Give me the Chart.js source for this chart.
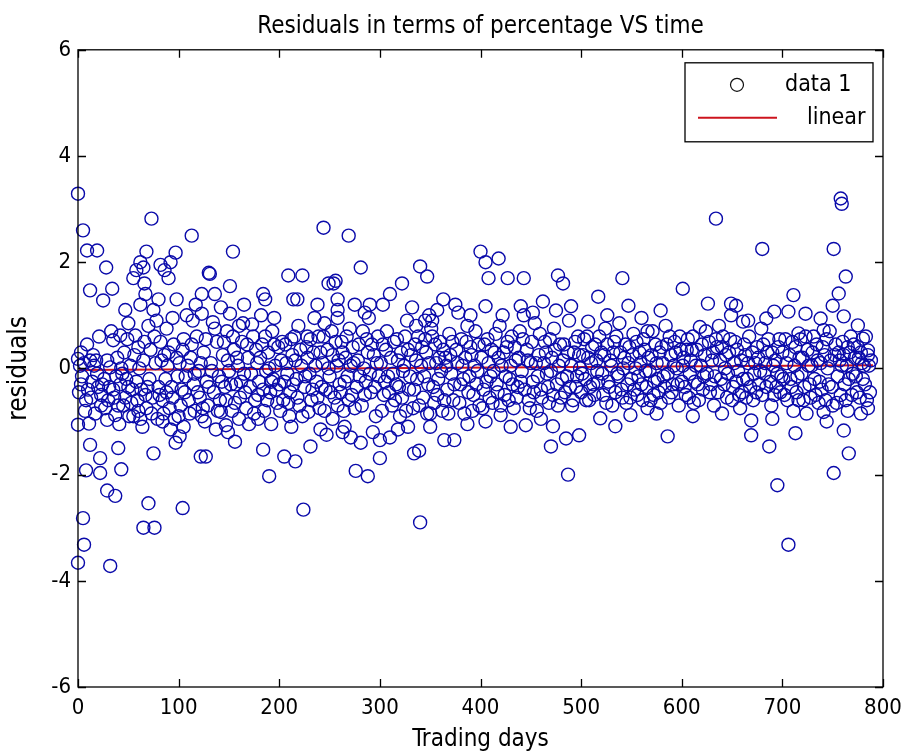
<!DOCTYPE html>
<html>
<head>
<meta charset="utf-8">
<script src="https://cdn.jsdelivr.net/npm/chart.js@4.4.1/dist/chart.umd.min.js"></script>
<style>
  html, body { margin: 0; padding: 0; background: #fff; }
  #wrap { width: 910px; height: 756px; }
</style>
</head>
<body>
<div id="wrap"><canvas id="residualChart" width="910" height="756"></canvas></div>
<script>
// [trading day, residual %], one list per 100 days
const span0 = [[0,3.29],[5,2.6],[9,2.22],[19,2.22],[28,1.9],[12,1.47],[25,1.28],[34,1.5],[47,1.1],[55,1.7],[58,1.85],[62,2.0],[65,1.9],[68,2.2],[66,1.6],[73,2.82],[82,1.95],[86,1.85],[90,1.7],[92,2.0],[97,2.18],[35,0.53],[42,0.62],[57,0.62],[67,1.4],[70,0.8],[75,1.1],[88,0.75],[98,1.3],[0,0.18],[12,0.15],[18,0.15],[86,0.25],[3,-0.3],[10,-0.4],[23,-0.5],[23,-0.7],[35,-0.4],[42,-0.3],[47,-0.55],[53,-0.65],[60,-0.8],[62,-0.95],[67,-0.5],[0,-1.06],[11,-1.04],[29,-0.97],[37,-0.88],[12,-1.44],[22,-1.69],[40,-1.5],[22,-1.97],[8,-1.92],[43,-1.9],[29,-2.3],[37,-2.4],[75,-1.6],[84,-1.0],[92,-1.15],[97,-1.4],[70,-2.54],[5,-2.82],[65,-3.0],[76,-3.0],[6,-3.32],[0,-3.66],[32,-3.72],
  [2,0.05],[4,-0.15],[6,0.1],[8,-0.6],[14,-0.25],[16,0.05],[20,-0.35],[26,-0.2],[30,-0.6],[32,0.02],[38,-0.15],[40,-0.7],[44,-0.1],[46,0.3],[50,-0.35],[52,0.05],[55,-0.9],[58,-0.25],[60,0.4],[63,-0.4],[65,0.15],[68,-0.75],[71,-0.2],[72,0.35],[74,-0.55],[77,0.1],[79,-0.95],[80,-0.35],[82,0.5],[84,-0.6],[87,-0.2],[89,0.05],[91,-0.75],[93,-0.35],[95,0.45],[96,-0.95],[99,-0.15],[78,0.9],[62,1.2],[50,0.85],[80,1.3],[94,0.95],
  [1,-0.45],[3,0.3],[7,-0.8],[9,0.45],[13,-0.55],[15,0.25],[17,-0.85],[19,-0.1],[21,0.6],[24,-0.3],[27,-0.75],[29,0.15],[31,-0.35],[33,0.7],[36,-0.55],[39,0.2],[41,-1.05],[43,0.0],[45,-0.7],[48,-0.2],[49,0.55],[51,-0.9],[54,-0.4],[56,0.25],[59,-0.6],[61,0.0],[64,-1.1],[66,0.5],[69,-0.35],[73,-0.85],[76,0.6],[81,-0.5],[83,0.15],[85,-0.85],[88,-0.45],[90,0.3],[94,-0.55],[98,0.2]];

const span1 = [[101,-1.28],[104,-2.63],[113,2.5],[123,1.4],[130,1.8],[131,1.78],[136,1.4],[151,1.55],[154,2.2],[108,1.0],[114,0.9],[123,1.03],[134,0.87],[151,1.03],[160,0.8],[173,0.83],[182,1.0],[184,1.4],[186,1.3],[195,0.95],[116,-0.8],[123,-0.9],[126,-1.0],[142,-0.82],[147,-1.07],[149,-1.2],[156,-1.38],[179,-0.95],[192,-1.05],[184,-1.53],[190,-2.03],[122,-1.66],[127,-1.66],[100,-0.9],
  [101,0.1],[103,-0.4],[105,0.55],[107,-0.15],[110,-0.6],[112,0.2],[115,-0.3],[118,0.6],[120,-0.05],[121,-0.55],[125,0.3],[128,-0.25],[129,-0.7],[132,0.1],[135,-0.45],[138,0.5],[140,-0.15],[141,-0.6],[144,0.25],[146,-0.35],[148,0.7],[150,-0.05],[153,-0.8],[155,0.35],[157,-0.3],[159,0.05],[161,-0.55],[163,0.5],[165,-0.1],[167,-0.75],[169,0.2],[171,-0.35],[174,0.6],[176,-0.6],[178,0.1],[180,-0.25],[183,0.45],[185,-0.8],[187,-0.05],[189,0.3],[191,-0.45],[193,0.7],[194,-0.2],[196,0.05],[198,-0.65],[199,0.4],[105,-1.1],[137,-1.15],[170,-1.05],[160,-0.95],[117,1.2],[142,1.15],[165,1.2],
  [102,-0.7],[104,0.35],[106,-0.45],[109,0.05],[111,-0.85],[113,0.45],[116,-0.1],[119,-0.45],[122,0.1],[124,-0.75],[127,0.55],[130,-0.35],[133,-0.05],[136,0.75],[139,-0.8],[143,-0.25],[145,0.5],[147,-0.6],[149,0.15],[152,-0.3],[154,0.6],[156,-0.65],[158,0.2],[162,-0.25],[164,0.85],[166,-0.45],[168,0.45],[172,-0.1],[175,-0.85],[177,0.35],[179,-0.5],[181,0.2],[184,-0.4],[186,0.6],[188,-0.6],[190,0.0],[192,-0.25],[195,0.45],[197,-0.4]];

const span2 = [[209,1.75],[223,1.75],[214,1.3],[218,1.3],[249,1.6],[254,1.6],[215,0.6],[228,0.6],[235,0.95],[245,0.85],[244,2.65],[205,-1.66],[216,-1.75],[231,-1.47],[210,-0.9],[229,-0.82],[241,-1.15],[253,-0.95],[224,-2.66],[269,2.5],[281,1.9],[256,1.65],[258,1.3],[258,0.95],[258,1.1],[285,1.05],[290,1.2],[289,0.95],[265,-1.1],[271,-1.3],[281,-1.4],[276,-1.93],[288,-2.03],[293,-1.2],
  [200,-0.3],[202,0.15],[204,-0.6],[206,0.45],[208,-0.1],[211,-0.45],[213,0.25],[217,-0.2],[219,0.8],[220,-0.7],[222,0.05],[225,-0.35],[227,0.4],[230,-0.1],[232,-0.6],[234,0.3],[237,-0.25],[239,0.6],[240,-0.75],[243,0.1],[246,-0.4],[248,0.35],[250,-0.15],[252,0.7],[255,-0.55],[257,0.05],[260,-0.3],[262,0.5],[264,-0.8],[266,0.2],[268,-0.15],[270,0.75],[272,-0.5],[274,0.1],[277,-0.35],[279,0.45],[282,-0.7],[284,0.0],[286,-0.25],[287,0.55],[291,-0.45],[294,0.25],[296,-0.9],[298,0.6],[299,-0.15],[212,-1.1],[247,-1.25],[263,-1.2],[238,1.2],[275,1.2],
  [201,-0.8],[203,0.5],[205,-0.25],[207,0.1],[209,-0.65],[212,0.55],[214,-0.3],[216,0.15],[218,-0.55],[221,0.35],[223,-0.9],[226,-0.15],[228,0.2],[231,0.55],[233,-0.4],[236,0.05],[238,-0.55],[241,0.3],[242,-0.35],[244,0.6],[245,-0.8],[249,0.0],[251,-0.45],[253,0.25],[256,0.5],[258,-0.7],[259,0.15],[261,-0.45],[263,0.3],[265,-0.25],[267,0.6],[269,-0.6],[271,0.05],[273,0.4],[275,-0.75],[278,0.15],[280,-0.15],[283,0.7],[285,-0.5],[288,0.3],[290,-0.1],[292,0.45],[295,-0.35],[297,0.1]];

const span3 = [[300,-1.69],[310,1.4],[303,1.2],[322,1.6],[340,1.92],[347,1.73],[363,1.3],[375,1.2],[378,1.05],[387,0.8],[349,1.0],[352,0.9],[345,0.9],[327,0.9],[336,0.8],[352,0.6],[300,-1.35],[310,-1.3],[328,-1.1],[334,-1.6],[339,-1.55],[350,-0.85],[350,-1.1],[364,-1.35],[374,-1.35],[340,-2.9],[387,-1.05],
  [301,0.1],[304,-0.5],[306,0.35],[308,-0.15],[312,-0.7],[314,0.5],[316,-0.3],[318,0.15],[320,-0.9],[323,-0.05],[325,0.6],[329,-0.4],[331,0.25],[333,-0.75],[335,0.45],[337,-0.2],[341,0.05],[343,-0.55],[346,0.3],[348,-0.3],[351,0.75],[354,-0.65],[356,0.1],[358,-0.2],[360,0.5],[362,-0.8],[365,0.2],[367,-0.4],[369,0.65],[371,-0.1],[373,-0.6],[376,0.35],[380,-0.3],[382,0.05],[384,-0.85],[386,0.5],[389,-0.15],[391,0.25],[393,-0.5],[395,0.7],[397,-0.05],[399,-0.7],[357,1.1],[332,1.15],[390,1.0],[318,-1.15],
  [302,-0.8],[303,0.45],[305,-0.25],[307,0.7],[309,-0.45],[311,0.2],[313,-0.1],[315,-0.6],[317,0.55],[319,-0.35],[321,0.3],[322,-0.55],[324,0.05],[326,-0.8],[328,0.35],[330,-0.15],[334,-0.4],[336,0.15],[338,0.6],[339,-0.7],[342,0.4],[344,-0.15],[345,0.55],[347,-0.85],[349,0.1],[353,-0.35],[355,0.45],[357,-0.5],[359,0.2],[361,-0.05],[363,0.35],[364,-0.6],[366,0.05],[368,-0.85],[370,0.25],[372,0.5],[374,-0.3],[377,0.1],[379,-0.65],[381,0.55],[383,-0.2],[385,0.2],[388,-0.45],[390,0.4],[392,-0.8],[394,0.05],[396,-0.3],[398,0.45]];

const span4 = [[400,2.2],[405,2.0],[418,2.07],[408,1.7],[427,1.7],[443,1.7],[477,1.75],[482,1.6],[405,1.17],[422,1.0],[440,1.17],[443,1.0],[462,1.26],[475,1.09],[490,1.17],[405,-1.0],[420,-0.88],[445,-1.07],[472,-1.09],[470,-1.47],[485,-1.32],[498,-1.26],[487,-2.0],
  [401,0.2],[403,-0.4],[407,0.55],[410,-0.15],[412,-0.65],[414,0.3],[416,-0.3],[419,0.8],[421,0.05],[424,-0.5],[426,0.4],[429,-0.2],[431,0.6],[433,-0.75],[435,0.15],[437,-0.35],[439,0.7],[441,-0.05],[446,0.35],[448,-0.6],[450,0.1],[452,-0.25],[454,0.85],[456,-0.8],[458,0.25],[460,-0.4],[464,0.5],[466,-0.1],[468,-0.65],[471,0.2],[473,0.75],[476,-0.3],[478,0.05],[480,-0.55],[483,0.45],[486,-0.15],[488,0.9],[491,-0.7],[493,0.3],[495,-0.35],[497,0.6],[499,0.0],[452,1.05],[430,-1.1],[460,-0.95],
  [402,-0.75],[404,0.45],[406,-0.25],[408,0.1],[409,-0.55],[411,0.35],[413,-0.05],[415,0.65],[417,-0.45],[418,0.2],[420,-0.7],[423,0.3],[425,-0.15],[427,0.5],[428,-0.6],[430,0.05],[432,-0.3],[434,0.4],[436,-0.55],[438,0.2],[440,-0.25],[442,0.55],[444,-0.4],[447,0.15],[449,-0.75],[451,0.5],[453,-0.45],[455,0.1],[457,-0.15],[459,0.65],[461,-0.55],[463,0.1],[465,0.3],[467,-0.35],[469,0.55],[470,-0.05],[472,-0.5],[474,0.35],[477,-0.7],[479,0.45],[481,-0.2],[482,0.15],[484,-0.45],[487,0.3],[489,-0.35],[490,0.05],[492,-0.6],[494,0.5],[496,-0.15],[498,0.25]];

const span5 = [[517,1.35],[507,0.88],[541,1.7],[547,1.18],[579,1.09],[526,1.0],[519,-0.94],[534,-1.09],[549,-0.88],[566,-0.75],[586,-1.28],
  [500,-0.45],[502,0.25],[504,-0.2],[506,0.6],[508,-0.6],[510,0.1],[512,-0.3],[514,0.45],[516,-0.05],[520,0.3],[522,-0.5],[524,0.75],[527,-0.25],[529,0.15],[531,-0.7],[533,0.5],[536,-0.1],[538,0.85],[540,-0.4],[543,0.2],[545,-0.65],[548,0.4],[550,-0.2],[552,0.65],[554,0.0],[556,-0.5],[558,0.3],[560,-0.3],[562,0.55],[564,-0.05],[567,0.2],[569,-0.6],[571,0.7],[573,-0.25],[575,0.1],[577,-0.45],[580,0.4],[582,-0.15],[584,0.8],[587,-0.55],[589,0.25],[591,-0.3],[593,0.5],[595,0.0],[597,-0.7],[599,0.35],[560,0.95],[575,-0.85],
  [501,-0.1],[503,0.55],[505,-0.6],[507,0.2],[509,-0.35],[511,0.4],[513,-0.5],[515,0.15],[517,-0.25],[518,0.6],[521,-0.1],[523,0.25],[525,-0.65],[526,0.45],[528,-0.35],[530,0.05],[532,0.3],[534,-0.45],[535,0.6],[537,-0.15],[539,0.3],[541,-0.55],[542,0.0],[544,0.45],[546,-0.3],[547,0.1],[549,-0.55],[551,0.25],[553,-0.4],[555,0.5],[557,-0.15],[559,0.1],[561,-0.6],[563,0.35],[565,-0.35],[566,0.7],[568,-0.05],[570,0.25],[572,-0.5],[574,0.45],[576,-0.2],[578,0.3],[579,-0.65],[581,0.1],[583,-0.35],[585,0.45],[586,-0.1],[588,0.6],[590,-0.45],[592,0.05],[594,0.3],[596,-0.3],[598,0.6]];

const span6 = [[601,1.5],[618,0.78],[626,1.22],[634,2.82],[637,0.8],[649,1.22],[649,1.0],[654,1.18],[658,-0.75],[661,0.88],[669,-0.98],[669,-1.26],[680,2.25],[684,0.94],[687,-1.47],[692,1.07],[695,-2.2],
  [600,-0.25],[602,0.2],[604,-0.5],[606,0.55],[608,-0.1],[610,0.35],[612,-0.65],[614,0.05],[616,-0.3],[620,0.45],[622,-0.15],[624,0.7],[628,-0.45],[630,0.15],[632,-0.7],[635,0.4],[639,-0.2],[641,0.6],[643,0.0],[645,-0.55],[647,0.3],[651,-0.35],[653,0.5],[656,-0.05],[660,-0.45],[663,0.25],[665,-0.2],[667,0.6],[671,-0.6],[673,0.1],[675,0.4],[677,-0.3],[679,0.75],[682,-0.1],[685,0.3],[689,-0.7],[691,0.05],[694,-0.35],[697,0.55],[699,-0.15],[611,-0.9],[640,-0.85],[666,0.9],[690,-0.95],
  [601,0.05],[603,-0.35],[605,0.35],[607,-0.55],[609,0.15],[611,0.6],[613,-0.25],[615,0.35],[617,-0.6],[619,0.05],[621,-0.4],[623,0.25],[625,-0.1],[627,0.5],[629,-0.3],[631,0.3],[633,-0.15],[634,0.55],[636,-0.45],[638,0.15],[640,0.4],[642,-0.3],[644,0.25],[646,-0.1],[648,0.55],[650,-0.6],[652,0.1],[654,-0.25],[655,0.35],[657,-0.5],[659,0.15],[661,-0.2],[662,0.45],[664,-0.55],[666,0.1],[668,-0.35],[670,0.3],[672,-0.1],[674,-0.45],[676,0.2],[678,-0.05],[680,-0.5],[681,0.45],[683,0.1],[684,-0.35],[686,0.55],[688,-0.25],[690,0.3],[692,-0.5],[693,0.15],[695,-0.1],[696,0.4],[698,-0.45]];

const span7 = [[706,1.07],[706,-3.32],[711,1.38],[713,-1.22],[716,0.66],[723,1.03],[738,0.94],[741,0.72],[750,1.18],[751,2.25],[751,-1.97],[756,1.41],[758,3.2],[759,3.1],[761,0.98],[761,-1.17],[763,1.73],[766,-1.6],[775,0.81],[780,0.56],[785,0.34],[785,-0.75],[711,-0.8],[724,-0.85],[741,-0.82],[765,-0.8],[778,-0.85],
  [700,0.3],[702,-0.5],[704,0.1],[708,-0.2],[710,0.5],[714,-0.45],[717,0.2],[719,-0.1],[721,-0.6],[725,0.35],[727,-0.3],[729,0.05],[731,0.6],[733,-0.5],[735,0.15],[737,-0.25],[740,0.4],[743,-0.6],[745,0.0],[747,0.7],[749,-0.35],[752,0.25],[754,-0.65],[757,0.15],[760,0.5],[762,-0.3],[764,0.05],[767,0.3],[769,-0.5],[771,0.45],[773,-0.15],[776,0.2],[777,-0.55],[779,0.1],[782,-0.3],[783,0.6],[786,0.05],[787,-0.45],[744,-1.0],
  [701,-0.2],[703,0.55],[705,-0.6],[707,0.25],[709,-0.35],[712,0.05],[713,0.4],[715,-0.15],[716,-0.6],[718,0.55],[720,0.2],[722,-0.35],[723,0.6],[726,0.05],[728,-0.55],[730,0.3],[732,-0.2],[734,0.45],[736,-0.65],[738,0.1],[739,-0.4],[742,0.25],[744,0.55],[746,-0.3],[748,0.15],[750,-0.7],[753,0.45],[755,-0.15],[756,0.3],[758,-0.5],[759,0.05],[761,0.25],[763,-0.6],[765,0.4],[766,-0.2],[768,0.6],[770,-0.1],[772,0.2],[774,-0.45],[775,0.4],[778,0.3],[780,-0.2],[781,0.05],[784,-0.6],[785,0.25],[788,0.15]];

// linear fit through the residuals
const fitDays = [1, 790];
const fitValues = [-0.03, 0.06];

const xTicks = [0, 100, 200, 300, 400, 500, 600, 700, 800];
const yTicks = [-6, -4, -2, 0, 2, 4, 6];

const residualPoints = [...span0, ...span1, ...span2, ...span3, ...span4, ...span5, ...span6, ...span7]
  .map(([d, r]) => ({x: d, y: r}));
const fitPoints = fitDays.map((d, i) => ({x: d, y: fitValues[i]}));

const FONT = "'Liberation Sans Narrow', 'DejaVu Sans Condensed', 'Liberation Sans', Arial, sans-serif";
const circleColor = 'rgb(10,10,170)';
const fitColor = 'rgb(205,20,30)';

// matlab style box: frame, inward ticks on all four sides, legend with a border
const matlabBox = {
  id: 'matlabBox',
  afterDatasetsDraw(chart) {
    const {ctx, chartArea: a, scales: {x, y}} = chart;
    ctx.save();
    ctx.strokeStyle = '#000';
    ctx.lineWidth = 1.3;
    ctx.strokeRect(a.left, a.top, a.right - a.left, a.bottom - a.top);
    ctx.beginPath();
    xTicks.forEach(v => {
      const px = Math.round(x.getPixelForValue(v)) + 0.5;
      ctx.moveTo(px, a.bottom); ctx.lineTo(px, a.bottom - 8);
      ctx.moveTo(px, a.top); ctx.lineTo(px, a.top + 8);
    });
    yTicks.forEach(v => {
      const py = Math.round(y.getPixelForValue(v)) + 0.5;
      ctx.moveTo(a.left, py); ctx.lineTo(a.left + 8, py);
      ctx.moveTo(a.right, py); ctx.lineTo(a.right - 8, py);
    });
    ctx.stroke();
    ctx.restore();
  },
  afterDraw(chart) {
    const {ctx, chartArea: a} = chart;
    const left = a.right - 198, top = a.top + 13, w = 188, h = 79;
    ctx.save();
    ctx.fillStyle = '#fff';
    ctx.fillRect(left, top, w, h);
    ctx.strokeStyle = '#000';
    ctx.lineWidth = 1.3;
    ctx.strokeRect(left, top, w, h);
    // data 1
    ctx.strokeStyle = '#111';
    ctx.lineWidth = 1.2;
    ctx.beginPath();
    ctx.arc(left + 52, top + 22, 6.5, 0, Math.PI * 2);
    ctx.stroke();
    // linear
    ctx.strokeStyle = fitColor;
    ctx.lineWidth = 2;
    ctx.beginPath();
    ctx.moveTo(left + 13, top + 55);
    ctx.lineTo(left + 92, top + 55);
    ctx.stroke();
    ctx.fillStyle = '#000';
    ctx.font = '23px ' + FONT;
    ctx.textBaseline = 'middle';
    ctx.textAlign = 'left';
    ctx.fillText(chart.data.datasets[0].label, left + 100, top + 22);
    ctx.fillText(chart.data.datasets[1].label, left + 122, top + 55);
    ctx.restore();
  }
};

new Chart(document.getElementById('residualChart'), {
  type: 'scatter',
  data: {
    datasets: [{
      label: 'data 1',
      data: residualPoints,
      pointStyle: 'circle',
      pointRadius: 6.5,
      pointBorderWidth: 1.4,
      borderColor: circleColor,
      backgroundColor: 'rgba(0,0,0,0)',
      clip: false
    }, {
      label: 'linear',
      type: 'line',
      data: fitPoints,
      borderColor: fitColor,
      borderWidth: 2,
      pointRadius: 0,
      fill: false
    }]
  },
  options: {
    responsive: false,
    animation: false,
    layout: {padding: {left: 0, right: 27, top: 0, bottom: 0}},
    plugins: {
      legend: {display: false},
      tooltip: {enabled: false},
      title: {
        display: true,
        text: 'Residuals in terms of percentage VS time',
        fullSize: false,
        color: '#000',
        font: {family: FONT, size: 24, weight: 'normal'},
        padding: {top: 12, bottom: 9}
      }
    },
    scales: {
      x: {
        type: 'linear',
        min: 0,
        max: 800,
        afterBuildTicks: s => { s.ticks = xTicks.map(v => ({value: v})); },
        afterFit: s => { s.height = 69; },
        grid: {display: false, drawTicks: false},
        border: {display: false},
        ticks: {color: '#000', padding: 8, font: {family: FONT, size: 22}},
        title: {display: true, text: 'Trading days', color: '#000', padding: {top: 0, bottom: 2}, font: {family: FONT, size: 24}}
      },
      y: {
        type: 'linear',
        min: -6,
        max: 6,
        afterBuildTicks: s => { s.ticks = yTicks.map(v => ({value: v})); },
        afterFit: s => { s.width = 78; },
        grid: {display: false, drawTicks: false},
        border: {display: false},
        ticks: {color: '#000', padding: 7, font: {family: FONT, size: 22}},
        title: {display: true, text: 'residuals', color: '#000', padding: {top: 4, bottom: 0}, font: {family: FONT, size: 26}}
      }
    }
  },
  plugins: [matlabBox]
});
</script>
</body>
</html>
